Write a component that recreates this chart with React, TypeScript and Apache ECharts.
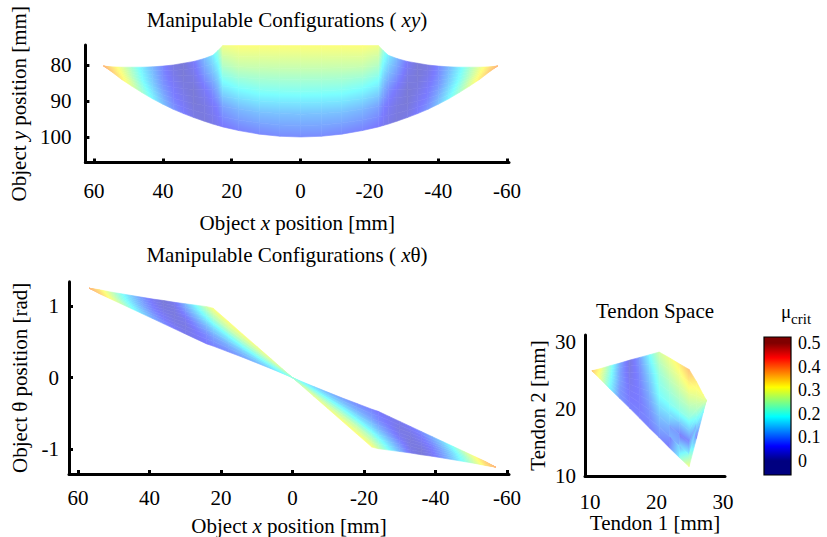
import React, { useEffect, useRef } from 'react';
import * as echarts from 'echarts';

const FONT = '"Liberation Serif", "Times New Roman", serif';

// ---------- Manipulable configurations (xy) ----------
const xyColX = [57.2, 55, 52, 49, 46, 43, 40, 37, 34, 31, 28, 25.5, 24, 22.6, 18, 12, 6, 0, -6, -12, -18, -22.6, -24, -25.5, -28, -31, -34, -37, -40, -43, -46, -49, -52, -55, -57.2];
const xyColTop = [80.3, 80.5, 80.6, 80.6, 80.6, 80.5, 80.3, 80.0, 79.5, 79.0, 78.2, 77.3, 76.0, 74.6, 74.6, 74.6, 74.6, 74.6, 74.6, 74.6, 74.6, 74.6, 76.0, 77.3, 78.2, 79.0, 79.5, 80.0, 80.3, 80.5, 80.6, 80.6, 80.6, 80.5, 80.3];
const xyColBottom = [80.3, 81.8, 84.0, 85.9, 87.7, 89.4, 90.9, 92.3, 93.5, 94.6, 95.6, 96.4, 96.8, 97.2, 98.2, 99.2, 99.8, 100.0, 99.8, 99.2, 98.2, 97.2, 96.8, 96.4, 95.6, 94.6, 93.5, 92.3, 90.9, 89.4, 87.7, 85.9, 84.0, 81.8, 80.3];
// mu_crit at 5 points from top edge to bottom edge of each column
const xyColMu = [
  [0.38, 0.38, 0.38, 0.38, 0.38],
  [0.34, 0.35, 0.35, 0.36, 0.36],
  [0.29, 0.30, 0.31, 0.32, 0.33],
  [0.23, 0.24, 0.25, 0.27, 0.28],
  [0.17, 0.18, 0.19, 0.21, 0.23],
  [0.12, 0.13, 0.14, 0.16, 0.18],
  [0.075, 0.08, 0.09, 0.11, 0.13],
  [0.035, 0.045, 0.06, 0.07, 0.09],
  [0.025, 0.025, 0.035, 0.05, 0.065],
  [0.06, 0.04, 0.025, 0.025, 0.04],
  [0.12, 0.09, 0.055, 0.035, 0.03],
  [0.17, 0.13, 0.085, 0.055, 0.04],
  [0.22, 0.17, 0.12, 0.07, 0.05],
  [0.30, 0.24, 0.17, 0.10, 0.06],
  [0.31, 0.26, 0.19, 0.12, 0.07],
  [0.31, 0.26, 0.20, 0.13, 0.075],
  [0.31, 0.26, 0.20, 0.13, 0.08],
  [0.31, 0.26, 0.20, 0.13, 0.08],
  [0.31, 0.26, 0.20, 0.13, 0.08],
  [0.31, 0.26, 0.20, 0.13, 0.075],
  [0.31, 0.26, 0.19, 0.12, 0.07],
  [0.30, 0.24, 0.17, 0.10, 0.06],
  [0.22, 0.17, 0.12, 0.07, 0.05],
  [0.17, 0.13, 0.085, 0.055, 0.04],
  [0.12, 0.09, 0.055, 0.035, 0.03],
  [0.06, 0.04, 0.025, 0.025, 0.04],
  [0.025, 0.025, 0.035, 0.05, 0.065],
  [0.035, 0.045, 0.06, 0.07, 0.09],
  [0.075, 0.08, 0.09, 0.11, 0.13],
  [0.12, 0.13, 0.14, 0.16, 0.18],
  [0.17, 0.18, 0.19, 0.21, 0.23],
  [0.23, 0.24, 0.25, 0.27, 0.28],
  [0.29, 0.30, 0.31, 0.32, 0.33],
  [0.34, 0.35, 0.35, 0.36, 0.36],
  [0.38, 0.38, 0.38, 0.38, 0.38],
];

// ---------- Manipulable configurations (x theta) ----------
const xtColX = [56.8, 54, 51, 48, 45, 42, 39, 36, 33, 30, 27, 24, 22.2, 18, 14, 10, 6, 3, 0, -3, -6, -10, -14, -18, -22.2, -24, -27, -30, -33, -36, -39, -42, -45, -48, -51, -54, -56.8];
const xtColTop = [1.246, 1.225, 1.195, 1.17, 1.145, 1.12, 1.095, 1.075, 1.05, 1.03, 1.01, 0.99, 0.968, 0.785, 0.61, 0.436, 0.262, 0.131, 0, -0.063, -0.125, -0.205, -0.285, -0.36, -0.44, -0.47, -0.54, -0.61, -0.68, -0.75, -0.82, -0.89, -0.96, -1.03, -1.10, -1.17, -1.246];
const xtColBottom = [1.246, 1.17, 1.10, 1.03, 0.96, 0.89, 0.82, 0.75, 0.68, 0.61, 0.54, 0.47, 0.44, 0.36, 0.285, 0.205, 0.125, 0.063, 0, -0.131, -0.262, -0.436, -0.61, -0.785, -0.968, -0.99, -1.01, -1.03, -1.05, -1.075, -1.095, -1.12, -1.145, -1.17, -1.195, -1.225, -1.246];
const xtColMu = [
  [0.38, 0.38, 0.38, 0.38, 0.38],
  [0.34, 0.34, 0.35, 0.35, 0.36],
  [0.27, 0.28, 0.29, 0.30, 0.31],
  [0.20, 0.21, 0.22, 0.24, 0.26],
  [0.14, 0.15, 0.16, 0.18, 0.20],
  [0.09, 0.10, 0.11, 0.13, 0.15],
  [0.05, 0.06, 0.07, 0.09, 0.11],
  [0.025, 0.03, 0.045, 0.06, 0.08],
  [0.05, 0.035, 0.03, 0.04, 0.06],
  [0.12, 0.085, 0.05, 0.035, 0.045],
  [0.19, 0.14, 0.09, 0.06, 0.05],
  [0.27, 0.20, 0.13, 0.08, 0.06],
  [0.31, 0.24, 0.16, 0.10, 0.07],
  [0.31, 0.26, 0.18, 0.12, 0.08],
  [0.31, 0.26, 0.20, 0.14, 0.10],
  [0.30, 0.26, 0.21, 0.16, 0.12],
  [0.29, 0.26, 0.22, 0.18, 0.15],
  [0.27, 0.25, 0.22, 0.20, 0.18],
  [0.22, 0.22, 0.22, 0.22, 0.22],
  [0.18, 0.20, 0.22, 0.25, 0.27],
  [0.15, 0.18, 0.22, 0.26, 0.29],
  [0.12, 0.16, 0.21, 0.26, 0.30],
  [0.10, 0.14, 0.20, 0.26, 0.31],
  [0.08, 0.12, 0.18, 0.26, 0.31],
  [0.07, 0.10, 0.16, 0.24, 0.31],
  [0.06, 0.08, 0.13, 0.20, 0.27],
  [0.05, 0.06, 0.09, 0.14, 0.19],
  [0.045, 0.035, 0.05, 0.085, 0.12],
  [0.06, 0.04, 0.03, 0.035, 0.05],
  [0.08, 0.06, 0.045, 0.03, 0.025],
  [0.11, 0.09, 0.07, 0.06, 0.05],
  [0.15, 0.13, 0.11, 0.10, 0.09],
  [0.20, 0.18, 0.16, 0.15, 0.14],
  [0.26, 0.24, 0.22, 0.21, 0.20],
  [0.31, 0.30, 0.29, 0.28, 0.27],
  [0.36, 0.35, 0.35, 0.34, 0.34],
  [0.38, 0.38, 0.38, 0.38, 0.38],
];

// ---------- Tendon space ----------
const tdColX = [10.3, 11.5, 13, 14.5, 16, 17.5, 19, 20.4, 22, 23.5, 24.9, 26, 27, 27.5];
const tdColTop = [25.7, 26.0, 26.45, 26.85, 27.3, 27.7, 28.1, 28.5, 27.6, 26.7, 25.9, 24.1, 22.2, 21.3];
const tdColBottom = [25.7, 24.5, 23.0, 21.55, 20.1, 18.6, 17.1, 15.75, 14.15, 12.7, 11.4, 15.6, 19.4, 21.3];
const tdColMu = [
  [0.36, 0.36, 0.36, 0.36, 0.36],
  [0.31, 0.31, 0.30, 0.30, 0.30],
  [0.22, 0.21, 0.20, 0.19, 0.18],
  [0.11, 0.10, 0.10, 0.09, 0.09],
  [0.035, 0.04, 0.05, 0.06, 0.07],
  [0.10, 0.08, 0.07, 0.065, 0.07],
  [0.19, 0.15, 0.12, 0.09, 0.07],
  [0.27, 0.22, 0.19, 0.13, 0.08],
  [0.30, 0.25, 0.20, 0.12, 0.06],
  [0.33, 0.27, 0.21, 0.07, 0.20],
  [0.37, 0.29, 0.21, 0.07, 0.32],
  [0.33, 0.29, 0.24, 0.16, 0.07],
  [0.31, 0.29, 0.26, 0.22, 0.18],
  [0.28, 0.28, 0.28, 0.28, 0.28],
];

// ---------- ticks ----------
const xPosTicks = [60, 40, 20, 0, -20, -40, -60];
const yPosTicks = [80, 90, 100];
const thetaTicks = [1, 0, -1];
const tendonTicks = [10, 20, 30];
const cbTicks = [0, 0.1, 0.2, 0.3, 0.4, 0.5];
const MU_MAX = 0.5;
const CB_MIN = -0.06;
const CB_MAX = 0.5256;

function clamp01(v: number) { return Math.max(0, Math.min(1, v)); }
function jetRGB(mu: number): number[] {
  const v = clamp01(mu / MU_MAX);
  return [
    clamp01(1.5 - Math.abs(4 * v - 3)),
    clamp01(1.5 - Math.abs(4 * v - 2)),
    clamp01(1.5 - Math.abs(4 * v - 1)),
  ];
}
function jetColor(mu: number) {
  const c = jetRGB(mu);
  return `rgb(${Math.round(c[0] * 255)},${Math.round(c[1] * 255)},${Math.round(c[2] * 255)})`;
}
const ALPHA = 0.52;
function faceColor(mu: number) {
  const c = jetRGB(mu).map((k) => Math.round(255 * (1 - ALPHA) + 255 * ALPHA * k));
  return `rgb(${c[0]},${c[1]},${c[2]})`;
}
function stopAt(arr: number[], t: number) {
  const p = t * (arr.length - 1);
  const i = Math.min(arr.length - 2, Math.floor(p));
  const f = p - i;
  return arr[i] * (1 - f) + arr[i + 1] * f;
}

// fill for a small quad: linear fit of mu over its corners, drawn as a gradient along the fitted slope
function cellFill(pts: number[][], ms: number[]) {
  const n = pts.length;
  let xc = 0, yc = 0, mc = 0;
  for (let i = 0; i < n; i++) { xc += pts[i][0]; yc += pts[i][1]; mc += ms[i]; }
  xc /= n; yc /= n; mc /= n;
  let sxx = 0, sxy = 0, syy = 0, sxm = 0, sym = 0;
  for (let i = 0; i < n; i++) {
    const dx = pts[i][0] - xc, dy = pts[i][1] - yc, dm = ms[i] - mc;
    sxx += dx * dx; sxy += dx * dy; syy += dy * dy; sxm += dx * dm; sym += dy * dm;
  }
  const det = sxx * syy - sxy * sxy;
  const sc = sxx + syy;
  if (sc < 1e-6 || det <= 1e-7 * sc * sc) return faceColor(mc);
  const bx = (sxm * syy - sym * sxy) / det;
  const by = (sym * sxx - sxm * sxy) / det;
  const gl = Math.hypot(bx, by);
  if (gl < 1e-7) return faceColor(mc);
  const ux = bx / gl, uy = by / gl;
  let smin = Infinity, smax = -Infinity;
  for (let i = 0; i < n; i++) {
    const s = (pts[i][0] - xc) * ux + (pts[i][1] - yc) * uy;
    smin = Math.min(smin, s); smax = Math.max(smax, s);
  }
  if (smax - smin < 1e-3) return faceColor(mc);
  const stops: any[] = [];
  const N = 6;
  for (let j = 0; j <= N; j++) {
    const f = j / N;
    const s = smin + f * (smax - smin);
    stops.push({ offset: f, color: faceColor(mc + gl * s) });
  }
  return new echarts.graphic.LinearGradient(xc + ux * smin, yc + uy * smin, xc + ux * smax, yc + uy * smax, stops, true);
}

function stripSeries(idx: number, xs: number[], tops: number[], bots: number[], mus: number[][]) {
  const data = xs.slice(0, -1).map((x, i) => [x, tops[i], bots[i], xs[i + 1], tops[i + 1], bots[i + 1]]);
  return {
    type: 'custom',
    xAxisIndex: idx,
    yAxisIndex: idx,
    silent: true,
    data,
    encode: { x: [0, 3], y: [1, 2, 4, 5] },
    renderItem: (params: any, api: any) => {
      const i = params.dataIndex;
      const x0 = api.value(0), a0 = api.value(1), b0 = api.value(2);
      const x1 = api.value(3), a1 = api.value(4), b1 = api.value(5);
      const K = 8;
      const children: any[] = [];
      for (let k = 0; k < K; k++) {
        const ta = k / K, tb = (k + 1) / K;
        const pA = api.coord([x0, a0 + ta * (b0 - a0)]);
        const pB = api.coord([x1, a1 + ta * (b1 - a1)]);
        const pC = api.coord([x1, a1 + tb * (b1 - a1)]);
        const pD = api.coord([x0, a0 + tb * (b0 - a0)]);
        const ms = [stopAt(mus[i], ta), stopAt(mus[i + 1], ta), stopAt(mus[i + 1], tb), stopAt(mus[i], tb)];
        const pts = [pA, pB, pC, pD];
        children.push({
          type: 'polygon',
          shape: { points: pts },
          style: { fill: cellFill(pts, ms), stroke: cellFill(pts, ms), lineWidth: 0.6 },
        });
      }
      return { type: 'group', children };
    },
  };
}

const FS = 21;
const txt = { fontFamily: FONT, fontSize: FS, color: '#000' };
const rich = { i: { fontFamily: FONT, fontSize: FS, fontStyle: 'italic', color: '#000' } };

function axisBase(extra: any) {
  return {
    type: 'value',
    splitLine: { show: false },
    axisLine: { show: true, onZero: false, lineStyle: { color: '#000', width: 3 } },
    nameLocation: 'middle',
    nameTextStyle: { ...txt, rich },
    ...extra,
  };
}

function tickCfg(values: number[], margin: number, show = true) {
  return {
    axisTick: { show, inside: true, length: 4, customValues: values, lineStyle: { color: '#000', width: 3 } },
    axisLabel: { customValues: values, margin, ...txt },
  };
}

export default function App() {
  const ref = useRef<HTMLDivElement>(null);
  useEffect(() => {
    document.body.style.margin = '0';
    if (!ref.current) return;
    const chart = echarts.init(ref.current, null, { renderer: 'svg' });
    const cbStops = [0, 0.0625, 0.1875, 0.3125, 0.4375, 0.5];
    const off = (m: number) => (m - CB_MIN) / (CB_MAX - CB_MIN);
    const option: any = {
      animation: false,
      backgroundColor: '#fff',
      title: [
        { text: 'Manipulable Configurations ( {i|xy})', left: 287, top: 9, textAlign: 'center', padding: 0, textStyle: { ...txt, fontWeight: 'normal', rich } },
        { text: 'Manipulable Configurations ( {i|x}θ)', left: 287, top: 244, textAlign: 'center', padding: 0, textStyle: { ...txt, fontWeight: 'normal', rich } },
        { text: 'Tendon Space', left: 655, top: 300, textAlign: 'center', padding: 0, textStyle: { ...txt, fontWeight: 'normal' } },
        {
          text: '{m|μ}{s|crit}', left: 796, top: 302, textAlign: 'center', padding: 0,
          textStyle: {
            ...txt, fontWeight: 'normal',
            rich: {
              m: { fontFamily: FONT, fontSize: 19, color: '#000', lineHeight: 24, verticalAlign: 'top' },
              s: { fontFamily: FONT, fontSize: 15, color: '#000', lineHeight: 24, verticalAlign: 'bottom' },
            },
          },
        },
      ],
      grid: [
        { left: 69, top: 45, width: 440, height: 117.5 },
        { left: 69, top: 281.7, width: 440, height: 193 },
        { left: 585, top: 335, width: 140, height: 141 },
        { left: 764, top: 337, width: 27, height: 138 },
      ],
      xAxis: [
        axisBase({ gridIndex: 0, inverse: true, min: -60.56, max: 62.52, name: 'Object {i|x} position [mm]', nameGap: 50, ...tickCfg(xPosTicks, 18) }),
        axisBase({ gridIndex: 1, inverse: true, min: -60.56, max: 62.52, name: 'Object {i|x} position [mm]', nameGap: 41, ...tickCfg(xPosTicks, 13) }),
        axisBase({ gridIndex: 2, min: 9.25, max: 30.3, name: 'Tendon 1 [mm]', nameGap: 32, ...tickCfg(tendonTicks, 15, false) }),
        { type: 'value', gridIndex: 3, min: 0, max: 1, show: false },
      ],
      yAxis: [
        axisBase({ gridIndex: 0, inverse: true, min: 74.44, max: 107.08, name: 'Object {i|y} position [mm]', nameGap: 39, ...tickCfg(yPosTicks, 14) }),
        axisBase({ gridIndex: 1, min: -1.343, max: 1.3375, name: 'Object θ position [rad]', nameGap: 39, ...tickCfg(thetaTicks, 10) }),
        axisBase({ gridIndex: 2, min: 10, max: 31.04, name: 'Tendon 2 [mm]', nameGap: 37, ...tickCfg(tendonTicks, 9, false) }),
        {
          type: 'value', gridIndex: 3, position: 'right', min: CB_MIN, max: CB_MAX,
          splitLine: { show: false }, axisLine: { show: false }, axisTick: { show: false },
          axisLabel: { customValues: cbTicks, margin: 7, fontFamily: FONT, fontSize: 18, color: '#000', formatter: (v: number) => (v === 0 ? '0' : v.toFixed(1)) },
        },
      ],
      series: [
        stripSeries(0, xyColX, xyColTop, xyColBottom, xyColMu),
        stripSeries(1, xtColX, xtColTop, xtColBottom, xtColMu),
        stripSeries(2, tdColX, tdColTop, tdColBottom, tdColMu),
        {
          type: 'custom', xAxisIndex: 3, yAxisIndex: 3, silent: true,
          data: [[0, CB_MIN, 1, CB_MAX]],
          renderItem: (params: any, api: any) => {
            const p0 = api.coord([api.value(0), api.value(3)]);
            const p1 = api.coord([api.value(2), api.value(1)]);
            const stops = [{ offset: 0, color: jetColor(0) }]
              .concat(cbStops.map((m) => ({ offset: off(m), color: jetColor(m) })))
              .concat([{ offset: 1, color: jetColor(MU_MAX) }]);
            return {
              type: 'rect',
              shape: { x: p0[0], y: p0[1], width: p1[0] - p0[0], height: p1[1] - p0[1] },
              style: { fill: new echarts.graphic.LinearGradient(0, 1, 0, 0, stops), stroke: '#000', lineWidth: 1.2 },
            };
          },
        },
      ],
    };
    chart.setOption(option);
    return () => chart.dispose();
  }, []);
  return <div ref={ref} style={{ width: 827, height: 537 }} />;
}
